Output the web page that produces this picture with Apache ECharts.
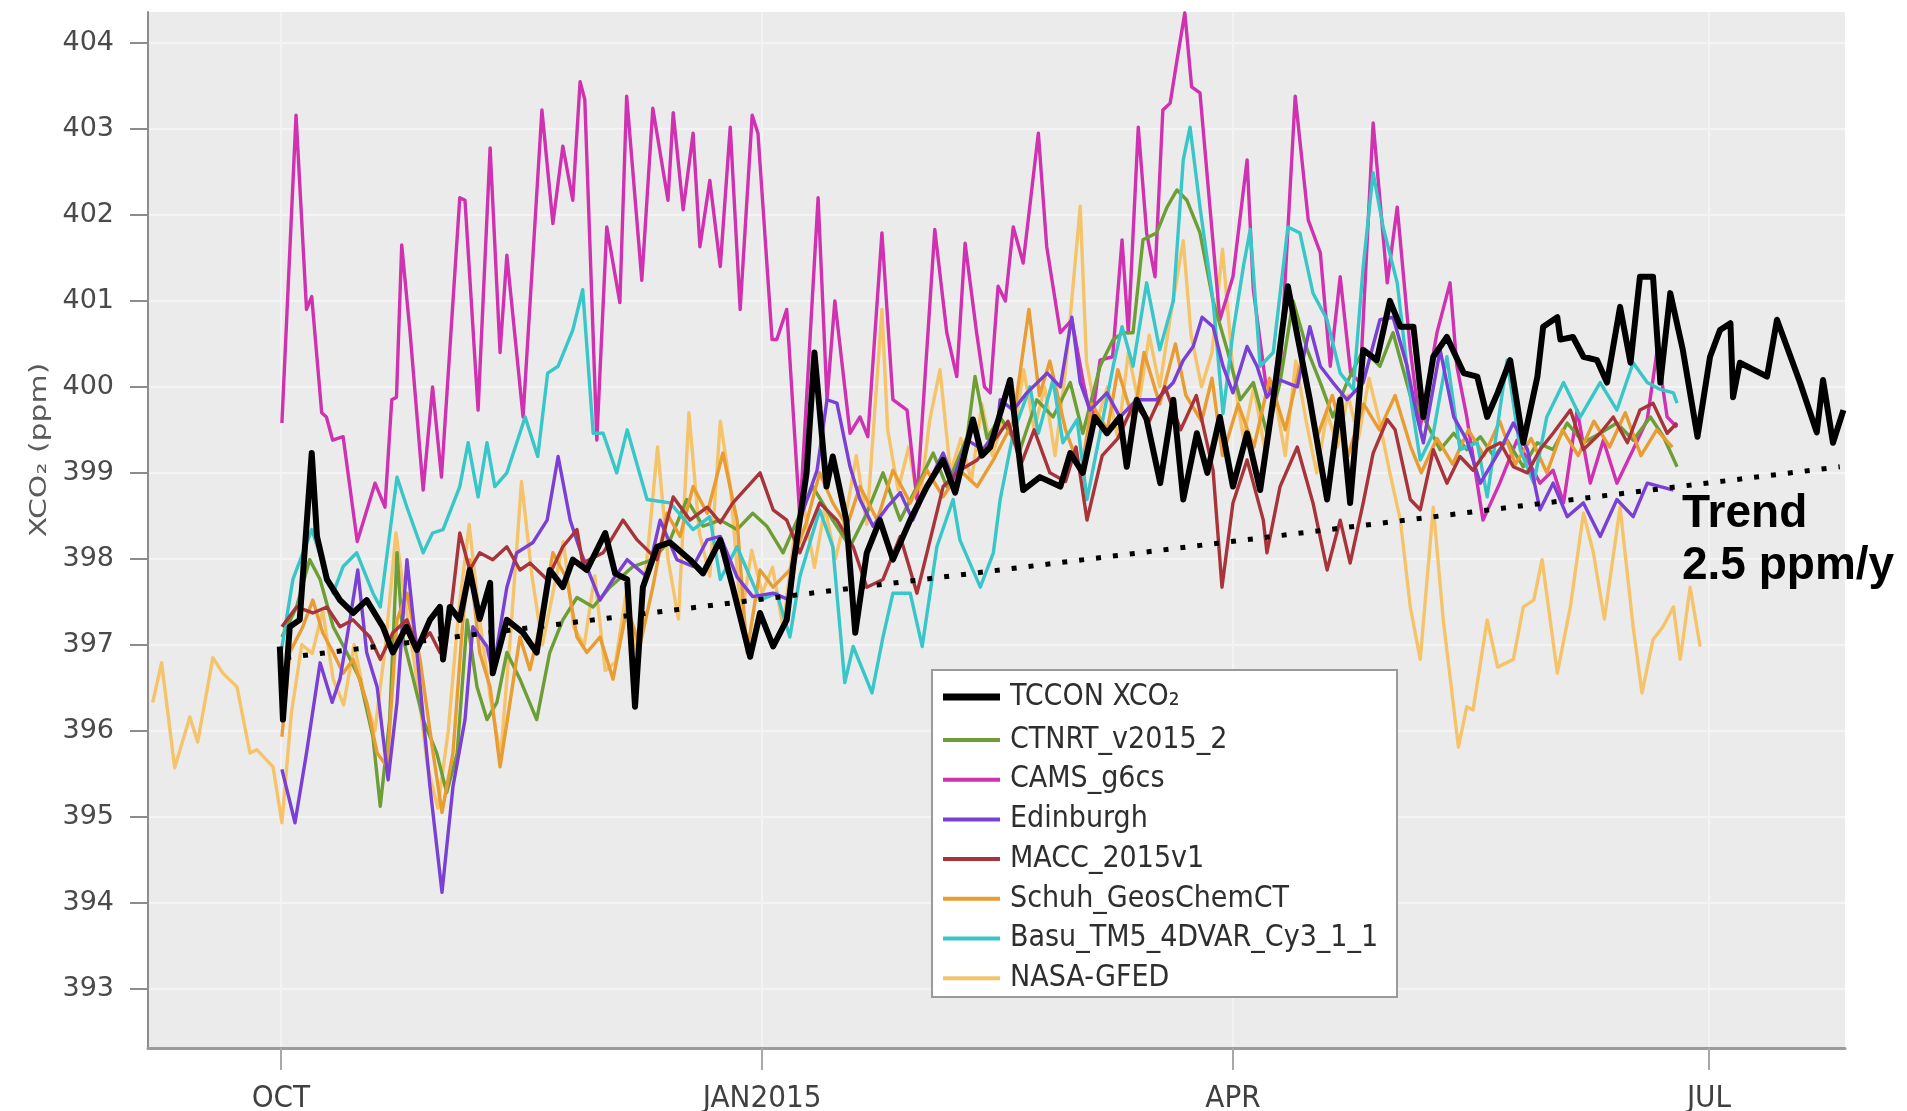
<!DOCTYPE html>
<html>
<head>
<meta charset="utf-8">
<title>XCO2 comparison</title>
<script src="https://cdn.jsdelivr.net/npm/echarts@6/dist/echarts.min.js"></script>
<style>
  html, body { margin: 0; padding: 0; background: #ffffff; }
  #chart { width: 1907px; height: 1111px; }
</style>
</head>
<body>
<div id="chart"></div>
<script>
// x values are days counted from 1 Oct 2014
const monthTickDays = [0, 92, 182, 273];
const monthTickLabels = ['OCT', 'JAN2015', 'APR', 'JUL'];
const ppmTicks = [393, 394, 395, 396, 397, 398, 399, 400, 401, 402, 403, 404];
const yAxisTitle = 'XCO₂ (ppm)';

const seriesNames = ['TCCON XCO₂', 'CTNRT_v2015_2', 'CAMS_g6cs', 'Edinburgh', 'MACC_2015v1',
  'Schuh_GeosChemCT', 'Basu_TM5_4DVAR_Cy3_1_1', 'NASA-GFED'];

const tccon = [[-0.2,396.98],[0.4,396.13],[1.7,397.21],[3.6,397.29],[5.9,399.23],[6.9,398.26],[8.8,397.76],[11.3,397.52],[13.8,397.37],[16.4,397.52],[19.5,397.21],[21.4,396.91],[24,397.21],[26,396.94],[28.5,397.29],[30.4,397.44],[31,396.83],[32.3,397.44],[34.2,397.29],[36.1,397.87],[38,397.3],[40,397.72],[40.5,396.67],[43.2,397.29],[46.3,397.14],[48.9,396.91],[51.4,397.87],[53.9,397.67],[55.8,397.99],[58.5,397.87],[62,398.3],[63.9,397.83],[66.2,397.76],[67.7,396.28],[69.2,397.67],[71.9,398.14],[74.4,398.19],[78.2,397.99],[80.7,397.83],[84,398.22],[86.4,397.67],[89.7,396.86],[91.6,397.37],[94.1,396.98],[96.7,397.29],[98,397.95],[100.5,399.0],[102,400.4],[104.3,398.84],[105.5,399.19],[108.1,398.45],[109.8,397.14],[112,398.07],[114.5,398.45],[117,397.99],[120.3,398.45],[123.5,398.84],[126.6,399.15],[128.9,398.77],[132.3,399.62],[134,399.2],[135.6,399.3],[139.4,400.08],[141.9,398.8],[145.1,398.95],[149,398.84],[150.9,399.23],[153.3,399.0],[155.6,399.65],[157.9,399.46],[160.4,399.65],[161.7,399.07],[163.6,399.85],[165.5,399.62],[168.1,398.88],[170.6,399.85],[172.5,398.69],[175.1,399.46],[177.1,399.0],[179.5,399.65],[182,398.84],[184.7,399.46],[187.2,398.8],[189.7,399.85],[192.5,401.17],[194.2,400.63],[196.7,399.85],[200,398.69],[202.5,399.85],[204.4,398.65],[206.9,400.43],[209.5,400.31],[212,401.0],[214,400.7],[216.5,400.7],[218.4,399.65],[220.3,400.35],[222.9,400.58],[226.1,400.16],[228.7,400.12],[230.6,399.65],[232.6,399.93],[235,400.31],[237.5,399.35],[240.2,400.12],[241.3,400.7],[244,400.81],[244.6,400.55],[247,400.58],[249,400.35],[251.6,400.31],[253.5,400.05],[256,400.93],[258,400.28],[259.8,401.28],[262.3,401.28],[263.7,400.05],[265.6,401.09],[268,400.43],[270.8,399.42],[273.2,400.35],[275.1,400.66],[277.1,400.74],[277.6,399.88],[278.9,400.28],[281.5,400.2],[284.1,400.12],[286,400.78],[290.4,400.05],[293.6,399.47],[294.8,400.08],[296.7,399.35],[298.7,399.73]];

const ctnrt = [[0.2,397.09],[3,397.44],[5.5,397.99],[7.5,397.76],[10,397.21],[12.6,396.91],[15.1,396.6],[17.6,395.93],[19,395.12],[20.8,396.13],[22.2,398.07],[23.3,397.09],[25.2,396.63],[27.2,396.13],[29.8,395.74],[31.7,395.28],[33.7,395.74],[35.6,397.29],[37.5,396.51],[39.4,396.13],[41.3,396.33],[43.2,396.91],[45.7,396.6],[48.9,396.13],[51.4,396.91],[53.9,397.29],[56.6,397.55],[59.7,397.44],[62.9,397.67],[67.3,397.91],[71.1,397.99],[74.4,398.22],[77.6,398.69],[80.7,398.38],[84,398.45],[87.2,398.34],[90.2,398.53],[92.9,398.38],[96,398.07],[98.7,398.45],[101.7,398.84],[105.5,398.45],[108.8,398.14],[112,398.53],[115.1,399.0],[118.4,398.45],[121.6,398.84],[124.7,399.23],[127.3,398.84],[131.2,399.42],[132.7,400.12],[135,399.4],[137.5,399.65],[141.3,399.27],[144.5,399.85],[147.6,399.65],[150.9,400.05],[153.3,399.46],[156.6,400.24],[159.1,400.55],[161,400.63],[162.9,400.63],[164.8,401.71],[167.4,401.79],[169.4,402.09],[171.3,402.29],[173.2,402.17],[175.7,401.79],[178.2,401.0],[180.9,400.43],[183.4,399.85],[185.9,400.05],[188.5,399.46],[191,400.05],[193.5,401.0],[196.2,400.43],[198.7,400.05],[201.1,399.65],[203.8,400.05],[206.9,400.43],[210.1,400.24],[212.6,400.63],[215.9,399.9],[219,399.58],[221.6,399.27],[224.2,399.46],[226.7,399.27],[229.3,399.42],[231.9,399.19],[234.4,399.38],[237.5,399.07],[240.2,399.35],[243.2,399.27],[245.9,399.58],[249,399.35],[252.2,399.46],[255.4,399.58],[258.5,399.38],[261.8,399.65],[264.3,399.42],[266.9,399.07]];

const cams = [[0.2,399.58],[2.9,403.16],[4.9,400.9],[5.9,401.05],[7.8,399.7],[8.7,399.65],[9.9,399.38],[11.9,399.42],[14.6,398.2],[18,398.88],[19.9,398.6],[21.2,399.85],[22.1,399.88],[23.1,401.65],[24.7,400.63],[27.2,398.8],[29,400.0],[30.7,398.95],[34.2,402.2],[35.2,402.17],[37.7,399.73],[40,402.78],[41.9,400.4],[43.2,401.53],[46.3,399.65],[49.9,403.22],[52,401.9],[53.9,402.8],[55.8,402.17],[57.2,403.55],[58.1,403.34],[60.4,399.38],[62.3,401.86],[64.8,400.98],[66.1,403.38],[69,401.24],[71.1,403.24],[74,402.17],[75,403.19],[76.9,402.06],[78.8,402.95],[80.1,401.63],[82,402.4],[84,401.4],[85.9,403.02],[87.8,400.9],[90.1,403.16],[91.2,402.95],[93.9,400.55],[94.8,400.55],[96.7,400.9],[99.2,398.49],[102.7,402.2],[104.4,399.85],[105.9,401.0],[108.8,399.46],[110.7,399.65],[112.2,399.42],[114.9,401.79],[117,399.85],[119.7,399.73],[121.6,398.69],[125,401.83],[127.3,400.63],[129.2,400.12],[130.8,401.67],[133,400.63],[134.5,400.0],[135.6,399.93],[137.1,401.17],[138.5,401.0],[140,401.86],[141.9,401.44],[144.8,402.95],[146.4,401.63],[149,400.63],[151.2,400.78],[153.4,400.05],[155,399.6],[156.6,400.31],[159,400.35],[160.8,401.71],[162,400.63],[163.9,403.02],[165.5,401.79],[167.1,401.28],[168.6,403.22],[170,403.3],[171.3,403.8],[172.8,404.35],[174.1,403.49],[175.7,403.42],[177.6,402.09],[179.5,400.78],[182,401.28],[184.7,402.64],[185.9,401.13],[188.5,399.93],[191,400.16],[193.9,403.38],[196.4,401.94],[198.7,401.56],[200.6,400.24],[202.5,401.28],[204.5,400.16],[206.3,400.05],[208.8,403.07],[211.5,401.21],[213.4,402.09],[215.9,400.43],[217.8,399.53],[221,400.63],[223.5,401.21],[224.8,400.24],[226.7,399.65],[229.8,398.45],[233,398.88],[236.3,399.38],[240.7,398.88],[243.2,399.03],[245.2,398.65],[247.8,399.73],[250.3,398.88],[252.8,399.38],[255.4,398.88],[258.5,399.27],[261.2,399.62],[263.1,400.43],[265,399.65],[266.9,399.53]];

const edinburgh = [[0.2,395.55],[2.7,394.93],[4.9,395.74],[7.5,396.79],[9.8,396.33],[11.3,396.6],[13.2,397.29],[14.7,397.87],[16.4,396.91],[18.4,396.51],[20.5,395.43],[22.2,396.33],[24.1,397.99],[26,396.91],[28.5,395.35],[30.8,394.12],[32.9,395.35],[35.2,396.13],[36.7,397.21],[39.4,396.98],[40.5,396.67],[43.2,397.67],[45.1,398.07],[48.2,398.19],[50.9,398.45],[53,399.19],[55.3,398.45],[57.2,398.1],[61,397.52],[63.5,397.76],[66.2,397.99],[70,397.79],[72.5,398.45],[75.7,397.99],[78.8,397.91],[81.5,398.22],[84,398.26],[87.2,397.79],[90.2,397.56],[94.1,397.6],[97.3,397.52],[99.2,398.45],[102.5,399.03],[104.4,399.85],[106.3,399.81],[108.8,399.07],[110.7,398.69],[113.2,398.38],[115.9,398.6],[118.4,398.77],[120.8,398.45],[123.5,398.84],[126.6,399.23],[128.5,398.92],[131.2,399.38],[134.2,399.27],[136.9,399.5],[137.5,399.85],[140,399.73],[142.6,399.93],[146.5,400.16],[149,400.0],[151.2,400.81],[152.8,400.05],[154.7,399.73],[157.9,399.93],[160.4,399.65],[163.6,399.85],[167.4,399.85],[170.6,400.05],[172.5,400.31],[174.4,400.47],[176.1,400.81],[178.2,400.7],[180.1,400.24],[182,399.93],[184.7,400.47],[186.6,400.24],[188.5,399.88],[191,400.08],[194.3,400.0],[196.7,400.7],[198.7,400.24],[201.1,400.05],[203.8,399.85],[206.9,400.05],[210.1,400.78],[212.6,400.81],[215.3,400.24],[217.2,399.65],[218.4,399.35],[221.6,400.43],[224.2,399.65],[226.7,399.38],[229.3,398.88],[233.1,399.27],[235.6,399.58],[238.3,399.27],[240.7,398.57],[243.2,398.88],[245.9,398.49],[249,398.65],[252.2,398.26],[255.4,398.69],[258.5,398.49],[261.2,398.88],[263.7,398.84],[266.2,398.8]];

const macc = [[0.2,397.21],[3,397.44],[6.1,397.37],[8.8,397.44],[11.3,397.21],[13.8,397.29],[17,397.09],[19,396.83],[21.4,397.14],[24.1,397.29],[26,396.98],[28.5,397.14],[30.4,396.91],[32.3,397.29],[34.2,398.3],[36.1,397.87],[38,398.07],[40.5,397.99],[43.2,398.14],[45.7,397.87],[47.6,397.95],[50.9,397.76],[53.9,398.14],[56.6,398.34],[57.7,397.95],[61.6,398.07],[65.4,398.45],[68.1,398.22],[71.9,397.99],[75,398.72],[78.2,398.45],[81.5,398.6],[84,398.42],[86.4,398.65],[91.6,399.0],[94.1,398.57],[96.7,398.45],[99.2,398.07],[103,398.65],[106.3,398.45],[109.4,398.14],[112,397.67],[115.1,397.76],[118.4,398.26],[121.6,397.6],[123.5,398.07],[126.6,398.84],[129.8,399.03],[133.1,399.15],[136.9,399.42],[139,399.6],[141.5,399.1],[144,399.5],[147,399.0],[150,398.9],[152,399.3],[154.1,398.45],[157,399.2],[160,399.4],[163,399.8],[166,399.6],[169,400.0],[172,399.5],[175,399.9],[178.2,399.03],[179.9,397.67],[182,398.65],[184.7,399.15],[187.8,398.45],[188.5,398.07],[191,398.84],[194.3,399.3],[197.3,398.65],[200,397.87],[202.5,398.45],[204.4,397.95],[206.9,398.65],[208.8,399.23],[211.5,399.62],[213,399.5],[215.9,398.69],[217.8,398.57],[220.3,399.27],[222.9,398.88],[225.4,399.19],[227.9,399.03],[230.6,399.27],[233.1,399.35],[235.6,399.07],[238.3,399.0],[240.7,399.27],[243.2,399.46],[246.5,399.73],[249,399.27],[252.2,399.46],[254.7,399.65],[257.4,399.35],[259.8,399.73],[262.3,399.81],[265,399.46],[266.9,399.58]];

const schuh = [[0.2,395.93],[1.7,396.91],[4.2,397.21],[6.1,397.52],[8,397.14],[10,396.91],[11.9,396.67],[13.8,396.83],[16.4,396.33],[18.4,395.74],[20.3,395.58],[22.2,397.29],[24.1,397.6],[26.6,396.83],[29.1,395.74],[30.8,395.05],[32.9,395.74],[34.8,397.29],[36.1,397.99],[38,396.91],[40,396.51],[41.9,395.58],[43.8,396.33],[45.7,397.09],[47.6,396.71],[49.5,397.21],[52,398.07],[54.7,397.76],[56.6,397.09],[58.5,396.91],[61,397.09],[63.5,396.6],[66.2,397.44],[68.6,396.98],[71.1,397.67],[73.8,398.53],[76.3,398.26],[78.8,398.84],[81.5,398.53],[84.5,399.23],[87.2,398.45],[89.1,396.91],[91.6,397.87],[94.1,397.67],[97.3,397.87],[100.6,398.45],[103,399.0],[105.5,398.65],[108.2,398.38],[110.7,398.84],[114,398.45],[117,399.03],[120.3,398.65],[123.5,399.03],[126.6,398.72],[129.8,399.03],[133.1,398.84],[136.2,399.15],[140,399.6],[143,400.9],[145,399.9],[147,400.3],[150,399.5],[153,399.0],[155,399.8],[158,399.5],[160,400.2],[163,399.6],[165,400.4],[168,399.8],[171,400.5],[173,399.9],[176,399.6],[178,400.1],[180,399.2],[183,399.8],[186,399.3],[189,400.1],[192,399.5],[195,400.3],[198,399.4],[201,399.9],[204,399.2],[207,399.8],[210,399.5],[213,399.9],[216,399.3],[218,399.0],[221,399.4],[224,399.1],[227,399.5],[230,399.2],[233,399.6],[236,399.1],[239,399.4],[242,399.0],[245,399.5],[248,399.2],[251,399.6],[254,399.3],[257,399.7],[260,399.2],[263,399.5],[266,399.3]];

const basu = [[0,396.9],[2.3,397.76],[5.9,398.34],[7.8,397.99],[10,397.6],[11.9,397.91],[14.5,398.07],[17.6,397.6],[19,397.44],[22.2,398.95],[24.1,398.6],[27.2,398.07],[29,398.3],[31,398.34],[34.2,398.84],[35.8,399.35],[37.7,398.72],[39.4,399.35],[40.9,398.84],[43.2,399.0],[46.7,399.65],[49.1,399.19],[51,400.16],[53,400.24],[55.8,400.66],[57.7,401.13],[59.7,399.46],[61.6,399.46],[64.2,399.0],[66.2,399.5],[70,398.69],[74.4,398.65],[78.8,398.34],[82,398.49],[84,397.76],[87.2,398.14],[91.6,397.52],[94.8,397.6],[97.3,397.09],[99.2,397.79],[103,398.57],[105.5,398.14],[107.8,396.56],[109.4,396.98],[113,396.44],[115.1,397.09],[117,397.6],[120.3,397.6],[122.6,396.98],[125.4,398.14],[128.5,398.69],[129.8,398.22],[133.7,397.67],[136.2,398.07],[137.5,398.69],[140,399.46],[143.2,400.0],[144.8,399.46],[147.6,400.08],[149.5,399.35],[152.2,399.62],[154.1,398.69],[156.6,399.46],[159.1,400.24],[160.8,400.7],[162.9,400.24],[165.5,401.21],[168,400.43],[170.6,401.0],[172.5,402.64],[173.8,403.02],[175.7,402.09],[178.2,401.0],[180.1,399.69],[182,400.63],[184,401.4],[185.3,401.83],[187.2,400.24],[189.7,400.4],[192.5,401.86],[194.8,401.79],[197.3,401.09],[200,400.78],[202.5,400.16],[205,399.97],[206.9,401.4],[208.8,402.49],[210.7,401.86],[213.4,401.21],[215.9,399.9],[217.8,399.15],[220.3,399.46],[222.9,400.35],[225.4,399.27],[228.7,399.35],[230.6,398.72],[234.4,400.31],[236.9,399.27],[239.5,398.88],[242,399.65],[245.2,400.05],[248.4,399.65],[252.2,400.05],[255.4,399.73],[258.5,400.28],[261.2,400.05],[263.7,399.97],[266.2,399.93],[266.9,399.81]];

const nasaGfed = [[-24.5,396.33],[-22.8,396.79],[-20.3,395.57],[-17.4,396.16],[-15.9,395.87],[-13,396.85],[-11.1,396.67],[-8.4,396.51],[-5.9,395.74],[-4.6,395.78],[-1.5,395.58],[0.2,394.93],[2,396.2],[4,397.0],[6,396.9],[8,397.4],[10,396.6],[12,396.3],[14,397.0],[16,396.4],[18,396.0],[20,397.0],[22,398.3],[24,397.4],[26,396.6],[28,395.6],[30,395.1],[32,396.0],[34,397.4],[36,398.4],[38,397.3],[40,396.4],[42,395.7],[44,397.2],[46,398.9],[48,397.8],[50,397.0],[52,397.6],[54,398.2],[56,397.2],[58,397.0],[60,397.8],[62,396.7],[64,396.8],[66,397.6],[68,396.9],[70,398.0],[72,399.3],[74,398.0],[76,397.3],[78,399.7],[80,398.3],[82,397.8],[84,399.6],[86,398.8],[88,397.3],[90,398.1],[92,397.6],[94,397.9],[96,397.2],[98,398.2],[100,398.6],[102,397.9],[104,398.6],[106,398.0],[108,398.5],[110,399.2],[112,398.4],[114.9,400.9],[116,399.5],[118,398.8],[120,399.3],[122,398.6],[124,399.6],[126,400.2],[128,399.0],[130,399.4],[132,398.9],[134,399.8],[136,399.2],[138,399.6],[140,399.4],[142,400.2],[144,399.5],[146,400.0],[148,399.2],[150,400.2],[152.8,402.1],[154,400.3],[156,399.6],[158,400.0],[160,399.4],[162,400.4],[164,399.8],[166,400.6],[168,400.0],[170,400.8],[172.5,401.7],[174,400.6],[176,400.0],[178,400.4],[180,401.6],[182,400.2],[184,399.4],[186,400.0],[188,399.3],[190,399.9],[192,399.2],[194,400.3],[196,399.6],[198,399.0],[200,399.7],[202,399.3],[204,399.9],[206,399.4],[208,400.1],[210,399.6],[212,399.0],[214,398.45],[215.9,397.44],[217.8,396.83],[220.3,398.6],[222.2,397.29],[225.1,395.81],[226.7,396.28],[227.9,396.24],[230.6,397.29],[232.6,396.74],[235.6,396.83],[237.5,397.44],[239.5,397.52],[241.1,397.99],[244,396.67],[246.5,397.44],[249,398.53],[250.9,398.07],[253,397.3],[256,398.6],[258.5,397.21],[260.2,396.44],[262.3,397.06],[264.2,397.21],[266.2,397.44],[267.5,396.83],[269.4,397.67],[271.3,396.98]];

// linear trend end points
const trendLine = [[1, 396.85], [298, 399.07]];
const trendText = ['Trend', '2.5 ppm/y'];

const seriesData = [tccon, ctnrt, cams, edinburgh, macc, schuh, basu, nasaGfed];
const seriesColors = ['#000000', '#6c9e35', '#cf31b0', '#7a3fd4', '#a8343a', '#e89c32', '#38c6c8', '#f5c46a'];
const seriesWidths = [6, 3.4, 3.4, 3.4, 3.4, 3.4, 3.4, 3.4];
const seriesZ = [9, 5, 4, 6, 6, 5, 5, 3];

const chart = echarts.init(document.getElementById('chart'), null, { renderer: 'canvas' });

const lineSeries = seriesNames.map((name, i) => ({
  name: name,
  type: 'line',
  data: seriesData[i],
  showSymbol: false,
  symbol: 'none',
  z: seriesZ[i],
  lineStyle: { color: seriesColors[i], width: seriesWidths[i], join: 'round' },
  itemStyle: { color: seriesColors[i] },
  emphasis: { disabled: true },
  silent: true
}));

lineSeries.push({
  name: 'trend',
  type: 'line',
  data: trendLine,
  showSymbol: false,
  symbol: 'none',
  z: 10,
  lineStyle: { color: '#000000', width: 5, type: [5, 12], cap: 'butt' },
  silent: true
});

const legendText = {
  fontFamily: 'DejaVu Sans Condensed',
  fontSize: 30,
  color: '#2e2e2e',
  lineHeight: 30,
  padding: [0, 0, 0, 5]
};

const option = {
  animation: false,
  backgroundColor: '#ffffff',
  grid: {
    left: 148, right: 62, top: 12, bottom: 63,
    outerBoundsMode: 'none',
    containLabel: false,
    show: true, backgroundColor: '#ebebeb', borderWidth: 0
  },
  xAxis: {
    type: 'value',
    min: -25.4,
    max: 299,
    axisLine: { show: true, onZero: false, lineStyle: { color: '#9c9c9c', width: 3 } },
    axisTick: { show: true, customValues: monthTickDays, length: 22, lineStyle: { color: '#a8a8a8', width: 2 } },
    axisLabel: {
      customValues: monthTickDays,
      formatter: v => monthTickLabels[monthTickDays.indexOf(v)] || '',
      fontFamily: 'DejaVu Sans Condensed',
      fontSize: 31,
      color: '#404040',
      margin: 35
    },
    splitLine: { show: true, lineStyle: { color: '#f3f3f3', width: 2 } }
  },
  yAxis: {
    type: 'value',
    min: 392.31,
    max: 404.36,
    axisLine: { show: true, onZero: false, lineStyle: { color: '#8c8c8c', width: 2 } },
    axisTick: { show: true, customValues: ppmTicks, length: 18, lineStyle: { color: '#8c8c8c', width: 2 } },
    axisLabel: {
      customValues: ppmTicks,
      fontFamily: 'DejaVu Sans',
      fontSize: 27,
      color: '#4a4a4a',
      margin: 34
    },
    splitLine: { show: true, lineStyle: { color: '#f4f4f4', width: 2 } }
  },
  legend: [
    {
      data: [seriesNames[0]],
      orient: 'vertical',
      left: 938, top: 677,
      icon: 'rect', itemWidth: 57, itemHeight: 7,
      selectedMode: false,
      textStyle: legendText,
      z: 20
    },
    {
      data: seriesNames.slice(1),
      orient: 'vertical',
      left: 938, top: 720,
      icon: 'rect', itemWidth: 57, itemHeight: 4,
      itemGap: 9.7,
      selectedMode: false,
      textStyle: legendText,
      z: 20
    }
  ],
  graphic: [
    {
      type: 'text', z: 30, x: 40, y: 450, rotation: Math.PI / 2, scaleX: 1.3,
      style: { text: yAxisTitle, font: '23px "DejaVu Sans", sans-serif', fill: '#5a5a5a',
        textAlign: 'center', textVerticalAlign: 'middle' }
    },
    {
      type: 'rect', z: 15,
      shape: { x: 932, y: 670, width: 465, height: 327 },
      style: { fill: '#ffffff', stroke: '#9a9a9a', lineWidth: 2 }
    },
    {
      type: 'text', z: 30, left: 1682, top: 491,
      style: { text: trendText[0], font: 'bold 46px "Liberation Sans", Arial, sans-serif', fill: '#000000' }
    },
    {
      type: 'text', z: 30, left: 1682, top: 543,
      style: { text: trendText[1], font: 'bold 46px "Liberation Sans", Arial, sans-serif', fill: '#000000' }
    }
  ],
  series: lineSeries
};

chart.setOption(option);
</script>
</body>
</html>
